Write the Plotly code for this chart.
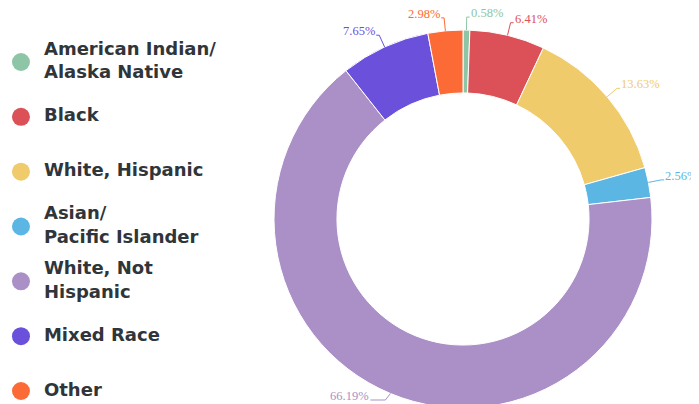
import math
import plotly.graph_objects as go

categories = ["American Indian/<br>Alaska Native", "Black", "White, Hispanic",
              "Asian/<br>Pacific Islander", "White, Not<br>Hispanic", "Mixed Race", "Other"]
values = [0.58, 6.41, 13.63, 2.56, 66.19, 7.65, 2.98]
colors = ["#8dc5a6", "#dc5157", "#f0cb6b", "#5cb6e4", "#aa90c6", "#6b50db", "#fc6b36"]

W, H = 699, 404
OFF = 8  # page body margin: the figure is drawn 8px right and down
VIS_W, VIS_H = W - OFF, H - OFF  # visible part of the figure

# pie geometry (figure pixels)
px0, px1 = 266, 644
py_top, py_bot = 22, 400
dom_x = [px0 / W, px1 / W]
dom_y = [(H - py_bot) / H, (H - py_top) / H]
cx = (px0 + px1) / 2
cy = (py_top + py_bot) / 2
r = min(px1 - px0, py_bot - py_top) / 2

fig = go.Figure()

fig.add_trace(go.Pie(
    labels=[c.replace("<br>", " ") for c in categories],
    values=values,
    marker=dict(colors=colors, line=dict(color="white", width=1)),
    hole=0.667,
    sort=False,
    direction="clockwise",
    rotation=0,
    textinfo="none",
    showlegend=False,
    domain=dict(x=dom_x, y=dom_y),
    hoverinfo="label+percent",
))

# outside labels with leader lines, placed from the slice angles
total = sum(values)
cum = 0.0
len1, len2 = 13, 3
for v, col in zip(values, colors):
    mid = (cum + v / 2) / total * 2 * math.pi
    cum += v
    s, c = math.sin(mid), math.cos(mid)
    ex, ey = cx + r * s, cy - r * c
    bx, by = cx + (r + len1) * s, cy - (r + len1) * c
    clamped = by > VIS_H - 4
    by = min(by, VIS_H - 4)
    side = 1 if s >= 0 else -1
    tx, ty = bx + side * (len2 + (12 if clamped else 0)), by
    path = "M {:.4f} {:.4f} L {:.4f} {:.4f} L {:.4f} {:.4f}".format(
        ex / W, 1 - ey / H, bx / W, 1 - by / H, tx / W, 1 - ty / H)
    fig.add_shape(type="path", path=path, xref="paper", yref="paper",
                  line=dict(color=col, width=1))
    fig.add_annotation(x=tx / W, y=1 - ty / H, xref="paper", yref="paper",
                       text="{:.2f}%".format(v / total * 100), showarrow=False,
                       xanchor="left" if side > 0 else "right", yanchor="middle",
                       yshift=4, borderpad=0,
                       font=dict(family="Liberation Serif", size=12.5, color=col))

idx = list(range(len(categories)))
fig.add_trace(go.Scatter(
    x=[0.053] * len(idx), y=idx, mode="markers",
    marker=dict(size=18, color=colors, line=dict(width=0)),
    showlegend=False, hoverinfo="skip", xaxis="x", yaxis="y",
))
fig.add_trace(go.Scatter(
    x=[0.147] * len(idx), y=idx, mode="text", text=categories,
    textposition="middle right",
    textfont=dict(family="DejaVu Sans", size=18, color="#30353a", weight=700),
    showlegend=False, hoverinfo="skip", xaxis="x", yaxis="y",
))

fig.update_layout(
    width=W, height=H,
    margin=dict(l=0, r=0, t=0, b=0),
    paper_bgcolor="white", plot_bgcolor="rgba(0,0,0,0)",
    xaxis=dict(domain=[0, 0.35], range=[0, 1], visible=False, fixedrange=True),
    yaxis=dict(domain=[0, 1], range=[6.383, -0.985], visible=False, fixedrange=True),
)

fig.write_html("out.html")
